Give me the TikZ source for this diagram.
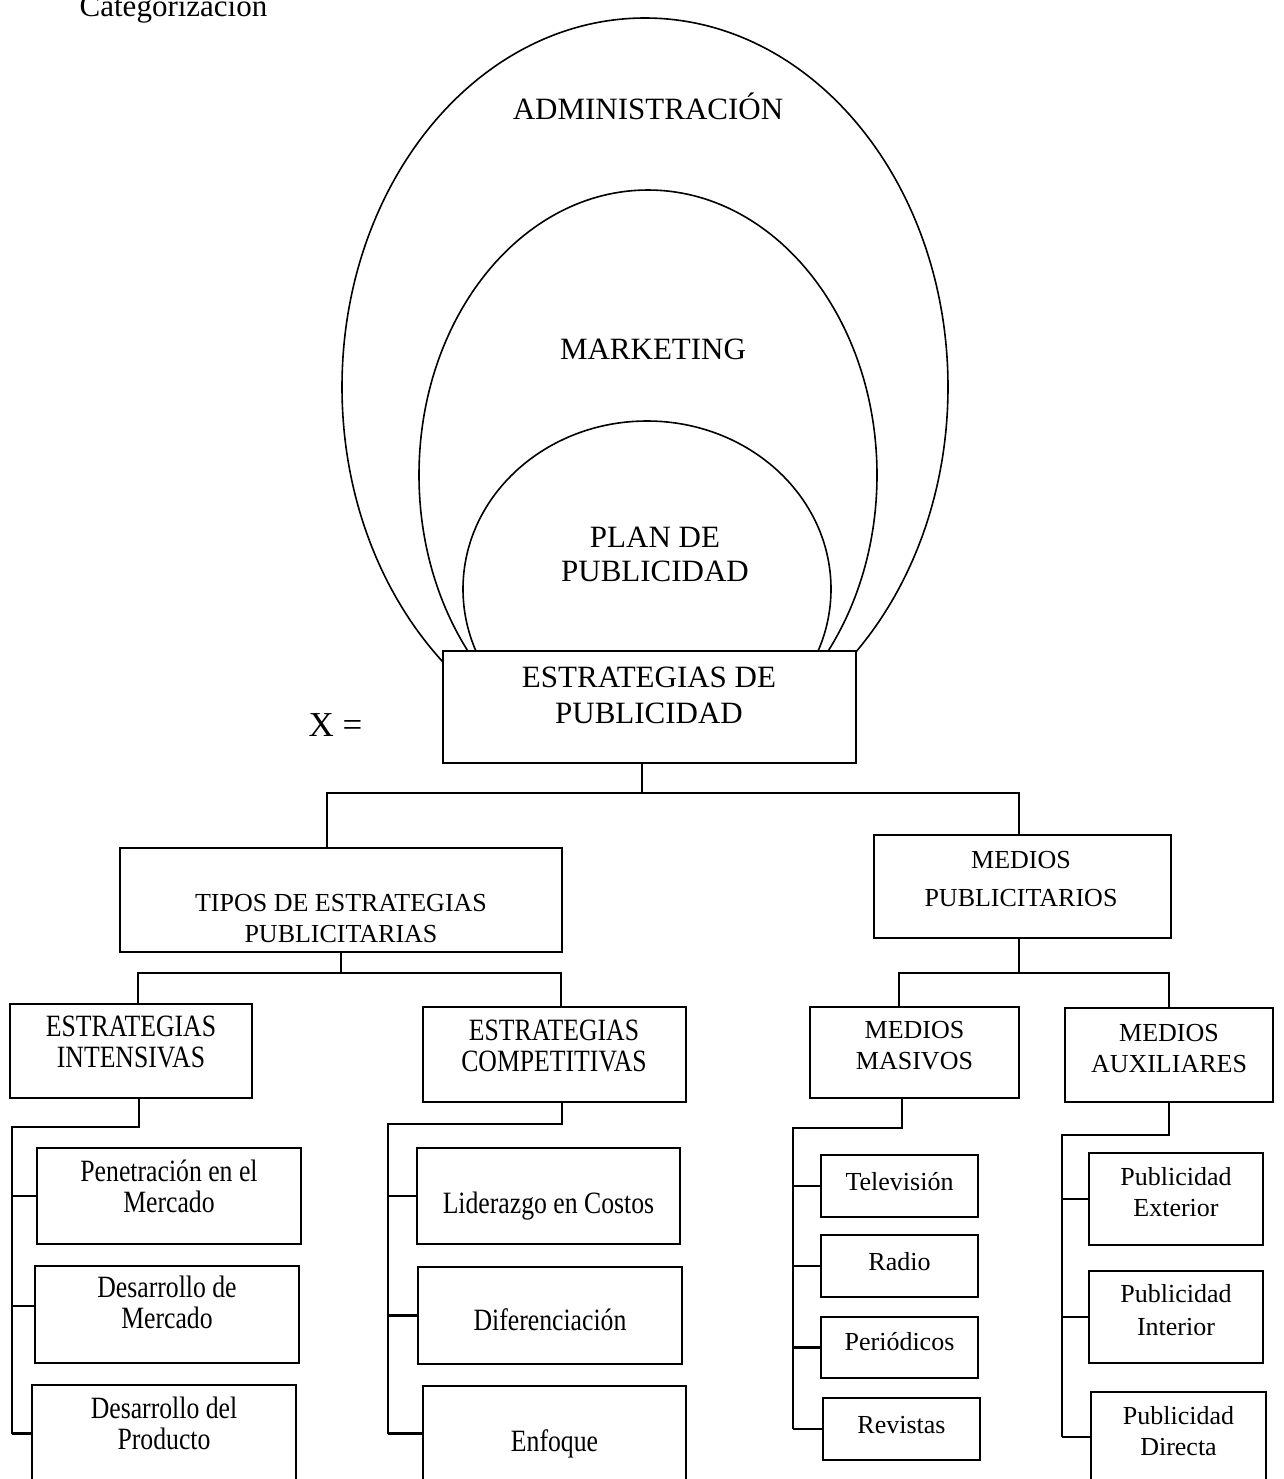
\documentclass[tikz,border=0pt]{standalone}
\usepackage{fontspec}
\setmainfont{Liberation Serif}
\newfontfamily\narrowserif{Liberation Serif}[FakeStretch=0.83]
\newcommand{\fbig}{\fontsize{15.5}{18}\selectfont}
\newcommand{\fmed}{\fontsize{13}{15.5}\selectfont}
\newcommand{\fcnd}{\narrowserif\fontsize{15.5}{15.5}\selectfont}

\begin{document}
\begin{tikzpicture}[x=0.5pt, y=-0.5pt,
    oval/.style={line width=0.8pt},
    box/.style={draw, fill=white, line width=1pt, inner sep=0pt},
    link/.style={line width=1.1pt},
    bigtxt/.style={font=\fbig, align=center, inner sep=0pt},
    medtxt/.style={font=\fmed, align=center, inner sep=0pt},
    cndtxt/.style={font=\fcnd, align=center, inner sep=0pt}]
    \useasboundingbox (0,0) rectangle (1284,1479);

    \node[bigtxt, anchor=base] (cat) at (173.5,16) {Categorización};

    % nested ovals
    \draw[oval] (645,387) ellipse [x radius=151.5pt, y radius=184.5pt];
    \draw[oval] (648,475) ellipse [x radius=114.5pt, y radius=142.5pt];
    \draw[oval] (647,589) ellipse [x radius=92pt, y radius=84pt];
    \node[bigtxt, anchor=base] (adm) at (648,119) {ADMINISTRACIÓN};
    \node[bigtxt, anchor=base] (mkt) at (653,359) {MARKETING};
    \node[bigtxt] (plan) at (655,554.5) {PLAN DE\\[-1pt]PUBLICIDAD};

    % main box
    \node[box, minimum width=206.5pt, minimum height=56pt] (est) at (649.5,707) {};
    \node[bigtxt] (est-t) at (649,695.5) {ESTRATEGIAS DE\\PUBLICIDAD};
    \node[font=\fontsize{17.5}{20}\selectfont, inner sep=0pt, anchor=base] (xeq) at (335.5,736) {X =};

    % second level
    \node[box, minimum width=221pt, minimum height=52pt] (tipos) at (341,900) {};
    \node[medtxt] (tipos-t) at (341,919) {TIPOS DE ESTRATEGIAS\\PUBLICITARIAS};
    \node[box, minimum width=148.5pt, minimum height=51.5pt] (mpub) at (1022.5,886.5) {};
    \node[medtxt] (mpub-t) at (1021,879.5) {MEDIOS\\[3.5pt]PUBLICITARIOS};

    \coordinate (busA) at (642,793);
    \draw[link] (est.south -| busA) -- (busA);
    \draw[link] ([xshift=-7pt]tipos.north) |- (busA) -| ([xshift=-1.75pt]mpub.north);

    % third level
    \node[box, minimum width=121pt, minimum height=47pt] (eint) at (131,1051) {};
    \node[cndtxt] (eint-t) at (131,1042) {ESTRATEGIAS\\INTENSIVAS};
    \node[box, minimum width=131.5pt, minimum height=47.5pt] (ecomp) at (554.5,1054.5) {};
    \node[cndtxt] (ecomp-t) at (554,1046) {ESTRATEGIAS\\COMPETITIVAS};
    \node[box, minimum width=104.5pt, minimum height=45.5pt] (mmas) at (914.5,1052.5) {};
    \node[medtxt] (mmas-t) at (914.5,1046) {MEDIOS\\MASIVOS};
    \node[box, minimum width=104pt, minimum height=47pt] (maux) at (1169,1055) {};
    \node[medtxt] (maux-t) at (1169,1049) {MEDIOS\\AUXILIARES};

    \coordinate (busB) at (341,973);
    \draw[link] (tipos.south) -- (busB);
    \draw[link] ([xshift=3.5pt]eint.north) |- (busB) -| ([xshift=3.25pt]ecomp.north);
    \coordinate (busC) at (1019,973);
    \draw[link] (mpub.south -| busC) -- (busC);
    \draw[link] ([xshift=-7.75pt]mmas.north) |- (busC) -| (maux.north);

    % intensivas
    \node[box, minimum width=132pt, minimum height=48pt] (pen) at (169,1196) {};
    \node[cndtxt] (pen-t) at (169,1186.5) {Penetración en el\\Mercado};
    \node[box, minimum width=132pt, minimum height=48.5pt] (dmer) at (167,1314.5) {};
    \node[cndtxt] (dmer-t) at (167,1302.5) {Desarrollo de\\Mercado};
    \node[box, minimum width=132pt, minimum height=48.5pt] (dprod) at (164,1433.5) {};
    \node[cndtxt] (dprod-t) at (164,1423) {Desarrollo del\\Producto};

    \coordinate (trA) at (12,1127);
    \draw[link] ([xshift=4pt]eint.south) |- (trA) -- (trA |- dprod.west);
    \draw[link] (trA |- pen.west) -- (pen.west);
    \draw[link] (trA |- dmer.west) ++(0,-8.5) -- ([yshift=4.25pt]dmer.west);
    \draw[link] (trA |- dprod.west) -- (dprod.west);

    % competitivas
    \node[box, minimum width=131.5pt, minimum height=48pt] (lid) at (548.5,1196) {};
    \node[cndtxt, anchor=base] (lid-t) at (548.5,1213) {Liderazgo en Costos};
    \node[box, minimum width=132pt, minimum height=48.5pt] (dif) at (550,1315.5) {};
    \node[cndtxt, anchor=base] (dif-t) at (550,1330) {Diferenciación};
    \node[box, minimum width=131.5pt, minimum height=47.5pt] (enf) at (554.5,1433.5) {};
    \node[cndtxt, anchor=base] (enf-t) at (554.5,1451) {Enfoque};

    \coordinate (trB) at (388,1124);
    \draw[link] ([xshift=3.75pt]ecomp.south) |- (trB) -- (trB |- enf.west);
    \foreach \n in {lid,dif,enf}
        \draw[link] (trB |- \n.west) -- (\n.west);

    % masivos
    \node[box, minimum width=78.5pt, minimum height=31pt] (tv) at (899.5,1186) {};
    \node[medtxt, anchor=base] (tv-t) at (899.5,1190) {Televisión};
    \node[box, minimum width=78.5pt, minimum height=31pt] (radio) at (899.5,1266) {};
    \node[medtxt, anchor=base] (radio-t) at (899.5,1270) {Radio};
    \node[box, minimum width=78.5pt, minimum height=30.5pt] (per) at (899.5,1347.5) {};
    \node[medtxt, anchor=base] (per-t) at (899.5,1350) {Periódicos};
    \node[box, minimum width=78.5pt, minimum height=31pt] (rev) at (901.5,1429) {};
    \node[medtxt, anchor=base] (rev-t) at (901.5,1433) {Revistas};

    \coordinate (trC) at (793,1128);
    \draw[link] ([xshift=-6.25pt]mmas.south) |- (trC) -- (trC |- rev.west);
    \foreach \n in {tv,radio,per,rev}
        \draw[link] (trC |- \n.west) -- (\n.west);

    % auxiliares
    \node[box, minimum width=87pt, minimum height=46pt] (pext) at (1176,1199) {};
    \node[medtxt] (pext-t) at (1176,1192.5) {Publicidad\\Exterior};
    \node[box, minimum width=87pt, minimum height=46pt] (pint) at (1176,1317) {};
    \node[medtxt] (pint-t) at (1176,1310) {Publicidad\\[1pt]Interior};
    \node[box, minimum width=87.5pt, minimum height=45pt] (pdir) at (1178.5,1437) {};
    \node[medtxt] (pdir-t) at (1178.5,1431.5) {Publicidad\\Directa};

    \coordinate (trD) at (1062,1135);
    \draw[link] (maux.south) |- (trD) -- (trD |- pdir.west);
    \foreach \n in {pext,pint,pdir}
        \draw[link] (trD |- \n.west) -- (\n.west);
\end{tikzpicture}
\end{document}
